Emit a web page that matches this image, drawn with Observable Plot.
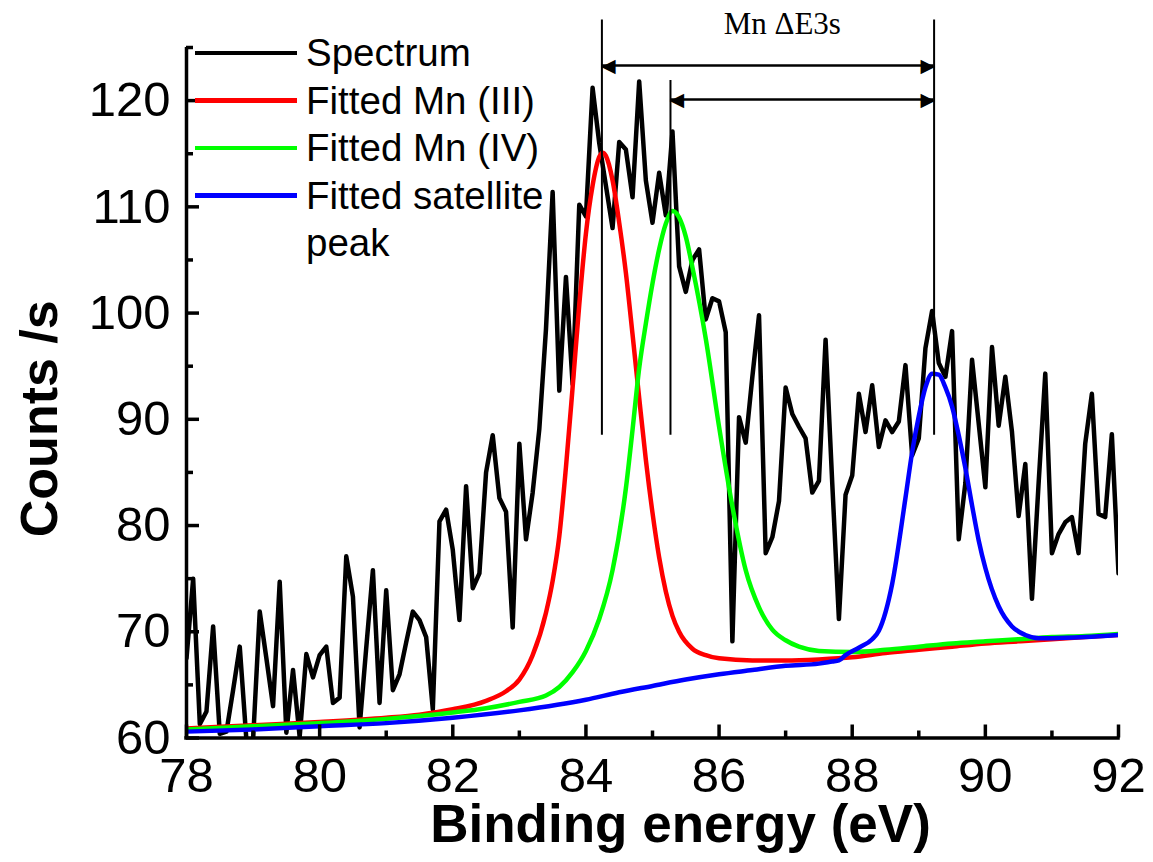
<!DOCTYPE html>
<html><head><meta charset="utf-8">
<script src="https://cdn.jsdelivr.net/npm/d3@7"></script>
<script src="https://cdn.jsdelivr.net/npm/@observablehq/plot@0.6"></script>
<style>
body{margin:0;background:#fff;}
#wrap{position:relative;width:1153px;height:862px;}
#legend{position:absolute;left:195px;top:29px;font-family:"Liberation Sans",Arial,sans-serif;font-size:38.5px;color:#000;}
.row{display:flex;align-items:flex-start;line-height:47.5px;}
.sw{width:102px;height:4.5px;margin-top:21.5px;margin-right:9px;flex:none;}
</style></head><body><div id="wrap"><div id="legend"></div></div>
<script>
// ---- data ----
const spectrumStart = 78.0, spectrumStep = 0.1;
const spectrumCounts = [
  67.5, 75.0, 61.3, 62.5, 70.5, 60.4, 60.6, 64.5, 68.6, 59.8,
  59.8, 71.9, 67.5, 63.0, 74.7, 60.5, 66.4, 60.1, 67.9, 65.7,
  67.8, 68.6, 63.3, 63.8, 77.1, 73.3, 61.0, 68.5, 75.8, 63.3,
  73.9, 64.5, 66.0, 69.0, 71.9, 71.1, 69.5, 62.7, 80.4, 81.5,
  77.7, 71.1, 83.7, 74.1, 75.5, 85.0, 88.5, 82.6, 81.3, 70.4,
  87.7, 78.7, 83.1, 89.1, 98.5, 111.4, 92.7, 103.4, 93.3, 110.2,
  109.1, 121.2, 116.0, 112.0, 108.0, 116.1, 115.4, 110.9, 121.8, 112.5,
  108.5, 113.2, 109.2, 117.1, 104.4, 102.0, 105.0, 106.0, 99.4, 101.4,
  101.1, 98.2, 69.1, 90.2, 87.8, 94.0, 99.8, 77.4, 78.9, 82.3,
  93.0, 90.5, 89.3, 88.2, 83.1, 84.2, 97.5, 84.0, 71.2, 82.9,
  84.7, 92.4, 88.8, 93.2, 87.4, 89.9, 88.8, 89.8, 95.1, 86.6,
  88.2, 96.7, 100.2, 95.3, 94.0, 98.3, 78.7, 84.0, 95.6, 89.6,
  83.6, 96.8, 89.4, 94.0, 88.8, 80.9, 85.8, 73.1, 84.0, 94.3,
  77.4, 79.2, 80.3, 80.8, 77.4, 87.7, 92.4, 81.1, 80.8, 88.6,
  75.5
];
const mn3Energy = [78, 79, 80, 81, 81.5, 82, 82.5, 82.8, 83, 83.2, 83.4, 83.5, 83.6, 83.7, 83.8, 83.9, 84, 84.1, 84.2, 84.25, 84.3, 84.4, 84.5, 84.6, 84.7, 84.8, 84.9, 85, 85.1, 85.2, 85.3, 85.4, 85.6, 85.8, 86, 86.5, 87, 87.5, 88, 88.5, 89, 89.5, 90, 90.5, 91, 91.5, 92];
const mn3Counts = [60.9, 61.2, 61.5, 61.9, 62.2, 62.7, 63.5, 64.4, 65.5, 67.8, 71.8, 74.8, 79.0, 85.5, 93.0, 100.8, 107.5, 112.0, 114.7, 115.1, 114.8, 112.5, 108.5, 103.8, 98.0, 92.0, 86.2, 81.2, 77.0, 73.8, 71.5, 70.0, 68.4, 67.8, 67.5, 67.3, 67.3, 67.4, 67.6, 68.0, 68.3, 68.6, 68.9, 69.1, 69.3, 69.5, 69.7];
const mn4Energy = [78, 79, 80, 81, 82, 82.5, 83, 83.4, 83.6, 83.8, 84, 84.2, 84.4, 84.6, 84.7, 84.8, 84.9, 85, 85.1, 85.2, 85.3, 85.4, 85.5, 85.6, 85.8, 86, 86.2, 86.4, 86.6, 86.8, 87, 87.2, 87.5, 88, 88.5, 89, 89.5, 90, 90.5, 91, 91.5, 92];
const mn4Counts = [60.8, 61.1, 61.4, 61.8, 62.4, 62.8, 63.4, 64.0, 64.8, 66.2, 68.2, 71.2, 75.8, 83.5, 89.0, 94.8, 99.0, 102.8, 106.0, 108.4, 109.6, 109.0, 107.2, 104.3, 97.6, 89.3, 81.8, 75.8, 72.3, 70.2, 69.2, 68.6, 68.2, 68.1, 68.3, 68.6, 68.9, 69.1, 69.3, 69.5, 69.6, 69.8];
const satEnergy = [78, 79, 80, 81, 82, 83, 84, 84.5, 85, 85.5, 86, 86.5, 87, 87.5, 87.7, 87.8, 87.9, 88.1, 88.3, 88.4, 88.6, 88.8, 88.9, 89, 89.1, 89.2, 89.3, 89.4, 89.5, 89.6, 89.7, 89.8, 89.9, 90, 90.2, 90.4, 90.6, 90.8, 91, 91.5, 92];
const satCounts = [60.6, 60.8, 61.1, 61.4, 61.9, 62.6, 63.6, 64.3, 64.9, 65.5, 66.0, 66.4, 66.8, 67.0, 67.2, 67.3, 67.8, 68.5, 69.3, 70.1, 74.5, 82.6, 86.9, 90.3, 93.0, 94.3, 94.2, 93.0, 91.2, 88.5, 85.4, 81.9, 78.6, 76.0, 72.4, 70.5, 69.7, 69.4, 69.4, 69.5, 69.7];

const seriesNames = ["Spectrum", "Fitted Mn (III)", "Fitted Mn (IV)", "Fitted satellite\npeak"];
const seriesColors = ["#000000", "#ff0000", "#00ff00", "#0000ff"];

const xMajorTicks = [78, 80, 82, 84, 86, 88, 90, 92];
const xMinorTicks = [79, 81, 83, 85, 87, 89, 91];
const yMajorTicks = [60, 70, 80, 90, 100, 110, 120];
const yMinorTicks = [65, 75, 85, 95, 105, 115, 125];

// peak markers (energy, top of marker line) and splitting arrows
const markerEnergies = [84.24, 85.27, 89.23];
const markerTops = [127.6, 121.9, 127.6];
const markerBottom = 88.5;
const splitFrom = [84.24, 85.27];
const splitTo = [89.23, 89.23];
const splitLevel = [123.3, 120.1];
const splitLabel = "Mn ΔE3s";
const splitLabelAt = [86.95, 127.2];

// ---- build ----
const W = 1153, H = 862, mL = 186, mR = 35, mT = 47, mB = 124.5;
const plotW = W - mL - mR, plotH = H - mT - mB;

const spectrum = spectrumCounts.map((v, i) => ({e: +(spectrumStart + i * spectrumStep).toFixed(2), v}));
const mn3 = mn3Energy.map((e, i) => ({e, v: mn3Counts[i]}));
const mn4 = mn4Energy.map((e, i) => ({e, v: mn4Counts[i]}));
const sat = satEnergy.map((e, i) => ({e, v: satCounts[i]}));
const markers = markerEnergies.map((e, i) => ({e, top: markerTops[i], bottom: markerBottom}));
const arrows = splitFrom.map((f, i) => ({from: f, to: splitTo[i], y: splitLevel[i]}));

const axisW = 3.5;
const chart = Plot.plot({
  width: W, height: H,
  marginLeft: mL, marginRight: mR, marginTop: mT, marginBottom: mB,
  style: {fontFamily: "'Liberation Sans', Arial, sans-serif", fontSize: "49px", color: "#000", background: "#fff", overflow: "visible"},
  x: {domain: [78, 92], ticks: xMajorTicks, tickSize: 0, tickPadding: 19, label: null},
  y: {domain: [60, 125], ticks: yMajorTicks, tickSize: 0, tickPadding: 16, label: null},
  marks: [
    Plot.line(spectrum, {x: "e", y: "v", stroke: seriesColors[0], strokeWidth: 4.5, clip: true}),
    Plot.line(mn3, {x: "e", y: "v", stroke: seriesColors[1], strokeWidth: 4.5, curve: "monotone-x", clip: true}),
    Plot.line(mn4, {x: "e", y: "v", stroke: seriesColors[2], strokeWidth: 4.5, curve: "monotone-x", clip: true}),
    Plot.line(sat, {x: "e", y: "v", stroke: seriesColors[3], strokeWidth: 4.5, curve: "monotone-x", clip: true}),
    // peak markers
    Plot.ruleX(markers, {x: "e", y1: "bottom", y2: "top", stroke: "#000", strokeWidth: 2}),
    Plot.ruleY(arrows, {y: "y", x1: "from", x2: "to", stroke: "#000", strokeWidth: 2.5}),
    Plot.text(arrows, {x: "from", y: "y", text: d => "\u25C0", textAnchor: "start", fontSize: 19, fontFamily: "DejaVu Sans", fill: "#000", dx: -1}),
    Plot.text(arrows, {x: "to", y: "y", text: d => "\u25B6", textAnchor: "end", fontSize: 19, fontFamily: "DejaVu Sans", fill: "#000", dx: 1}),
    Plot.text([splitLabel], {x: d => splitLabelAt[0], y: d => splitLabelAt[1], text: d => d, fontFamily: "'Liberation Serif', 'Times New Roman', serif", fontSize: 31, fill: "#000"}),
    // axes
    Plot.ruleX([78], {stroke: "#000", strokeWidth: axisW}),
    Plot.ruleY([60], {stroke: "#000", strokeWidth: axisW, strokeLinecap: "square"}),
    Plot.tickX(xMajorTicks, {x: d => d, insetTop: plotH - 13, stroke: "#000", strokeWidth: axisW}),
    Plot.tickX(xMinorTicks, {x: d => d, insetTop: plotH - 7, stroke: "#000", strokeWidth: axisW}),
    Plot.tickY(yMajorTicks, {y: d => d, insetRight: plotW - 13, stroke: "#000", strokeWidth: axisW}),
    Plot.tickY(yMinorTicks, {y: d => d, insetRight: plotW - 7, stroke: "#000", strokeWidth: axisW}),
    Plot.text(["Binding energy (eV)"], {frameAnchor: "bottom", dx: 28, dy: 87, textAnchor: "middle", lineAnchor: "middle", text: d => d, fontSize: 53, fontWeight: "bold", fill: "#000"}),
    Plot.text(["Counts /s"], {frameAnchor: "left", dx: -146, dy: 26, rotate: -90, textAnchor: "middle", lineAnchor: "middle", text: d => d, fontSize: 52, fontWeight: "bold", fill: "#000"})
  ]
});
document.getElementById("wrap").prepend(chart);

// legend overlay
const legend = d3.select("#legend");
seriesNames.forEach((name, i) => {
  const row = legend.append("div").attr("class", "row");
  row.append("div").attr("class", "sw").style("background", seriesColors[i]);
  row.append("div").html(name.replace("\n", "<br>"));
});
</script></body></html>
